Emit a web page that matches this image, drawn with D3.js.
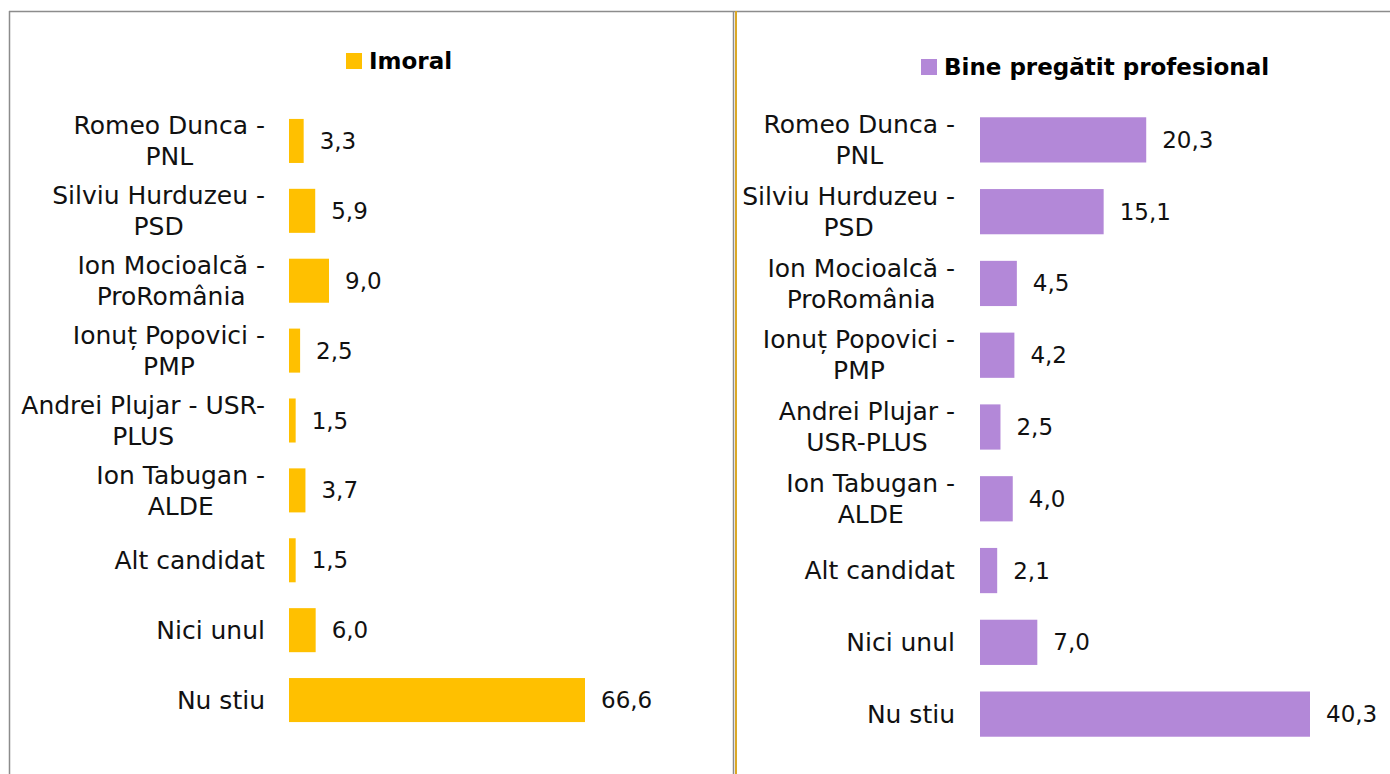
<!DOCTYPE html>
<html lang="ro">
<head>
<meta charset="UTF-8">
<title>Imoral / Bine pregătit profesional</title>
<script src="https://cdn.jsdelivr.net/npm/d3@7"></script>
<style>
    body { margin: 0; background: #fff; }
    .lbl { font-family: "DejaVu Sans", sans-serif; font-size: 25px; fill: #111; }
    .val { font-family: "DejaVu Sans", sans-serif; font-size: 23px; fill: #111; }
    .ttl { font-family: "DejaVu Sans", sans-serif; font-size: 23px; font-weight: bold; fill: #000; }
</style>
</head>
<body>
<div id="chart"></div>
<script>
    // data
    var labelsLeft = [["Romeo Dunca -", "PNL"], ["Silviu Hurduzeu -", "PSD"], ["Ion Mocioalcă -", "ProRomânia"],
        ["Ionuț Popovici -", "PMP"], ["Andrei Plujar - USR-", "PLUS"], ["Ion Tabugan -", "ALDE"],
        ["Alt candidat"], ["Nici unul"], ["Nu stiu"]];
    var labelsRight = [["Romeo Dunca -", "PNL"], ["Silviu Hurduzeu -", "PSD"], ["Ion Mocioalcă -", "ProRomânia"],
        ["Ionuț Popovici -", "PMP"], ["Andrei Plujar -", "USR-PLUS"], ["Ion Tabugan -", "ALDE"],
        ["Alt candidat"], ["Nici unul"], ["Nu stiu"]];
    var imoral = [3.3, 5.9, 9.0, 2.5, 1.5, 3.7, 1.5, 6.0, 66.6];
    var binePregatit = [20.3, 15.1, 4.5, 4.2, 2.5, 4.0, 2.1, 7.0, 40.3];

    var W = 1390, H = 774;
    var svg = d3.select("#chart").append("svg")
        .attr("width", W).attr("height", H);

    // frame
    svg.append("line").attr("x1", 9).attr("x2", W).attr("y1", 11.5).attr("y2", 11.5)
        .attr("stroke", "#8c8c8c").attr("stroke-width", 1.5);
    svg.append("line").attr("x1", 9.5).attr("x2", 9.5).attr("y1", 11).attr("y2", H)
        .attr("stroke", "#8c8c8c").attr("stroke-width", 1.5);
    svg.append("line").attr("x1", 733.5).attr("x2", 733.5).attr("y1", 11).attr("y2", H)
        .attr("stroke", "#8c8c8c").attr("stroke-width", 1.5);
    svg.append("line").attr("x1", 736).attr("x2", 736).attr("y1", 11).attr("y2", H)
        .attr("stroke", "#dba827").attr("stroke-width", 2);

    function panel(opts) {
        var g = svg.append("g");
        var x = d3.scaleLinear().domain([0, opts.max]).range([opts.x0, opts.x1]);
        var y = d3.scaleBand().domain(d3.range(opts.values.length))
            .range(opts.yr).paddingInner(opts.pad).paddingOuter(opts.pad / 2);

        g.selectAll("rect.bar").data(opts.values).enter().append("rect")
            .attr("class", "bar")
            .attr("x", x(0))
            .attr("y", function(d, i) { return y(i); })
            .attr("width", function(d) { return x(d) - x(0); })
            .attr("height", y.bandwidth())
            .attr("fill", opts.color);

        g.selectAll("text.val").data(opts.values).enter().append("text")
            .attr("class", "val")
            .attr("x", function(d) { return x(d) + 16; })
            .attr("y", function(d, i) { return y(i) + y.bandwidth() / 2; })
            .attr("dy", "0.35em")
            .text(function(d) { return d.toFixed(1).replace(".", ","); });

        // category labels, wrapped lines centred on each other
        opts.labels.forEach(function(lines, i) {
            var cy = y(i) + y.bandwidth() / 2;
            var t = g.append("text").attr("class", "lbl").attr("text-anchor", "middle");
            lines.forEach(function(s, k) {
                t.append("tspan").attr("x", 0)
                    .attr("y", cy + (k - (lines.length - 1) / 2) * 31)
                    .attr("dy", "0.35em").text(s);
            });
            var bw = t.node().getBBox().width;
            t.attr("transform", "translate(" + (opts.labelRight - bw / 2) + ",0)");
        });

        // legend title
        var lg = g.append("g").attr("transform", "translate(" + opts.titleX + "," + opts.titleY + ")");
        lg.append("rect").attr("x", 0).attr("y", -8).attr("width", 16).attr("height", 16).attr("fill", opts.color);
        lg.append("text").attr("class", "ttl").attr("x", 23).attr("dy", "0.35em").text(opts.title);
    }

    panel({values: imoral, labels: labelsLeft, color: "#ffc000", max: 66.6,
        x0: 289, x1: 585, yr: [106, 735], pad: 0.37, labelRight: 265,
        title: "Imoral", titleX: 346, titleY: 61});
    panel({values: binePregatit, labels: labelsRight, color: "#b388d8", max: 40.3,
        x0: 980, x1: 1310, yr: [104, 750], pad: 0.37, labelRight: 955,
        title: "Bine pregătit profesional", titleX: 921, titleY: 67});
</script>
</body>
</html>
